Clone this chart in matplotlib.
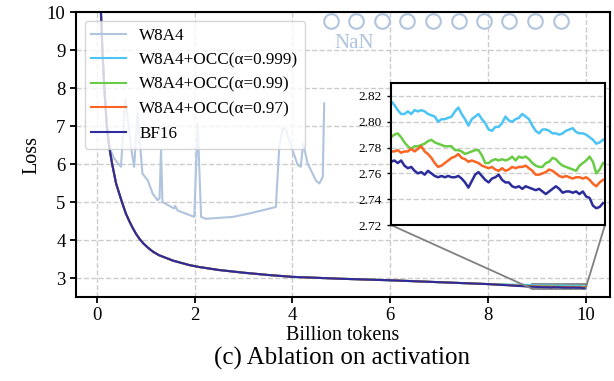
import matplotlib
matplotlib.use("Agg")
import matplotlib.pyplot as plt
import numpy as np
from mpl_toolkits.axes_grid1.inset_locator import mark_inset

plt.rcParams['font.family'] = ['Liberation Serif', 'DejaVu Serif']

# warm-up part, all the stable runs sit on top of each other here
early_tokens = [0.03, 0.08, 0.11, 0.15, 0.2, 0.25, 0.31, 0.39, 0.51, 0.59, 0.66, 0.73, 0.80,
                0.87, 0.95, 1.04, 1.15, 1.27, 1.55, 1.89, 2.09, 2.5, 3.0, 3.5, 4.0, 5.0,
                6.0, 7.0, 8.0]
early_loss = [11.0, 10.0, 9.0, 8.0, 7.0, 6.45, 6.0, 5.49, 5.0, 4.70, 4.50, 4.32, 4.16,
              4.03, 3.91, 3.80, 3.69, 3.60, 3.46, 3.34, 3.29, 3.21, 3.14, 3.08, 3.03, 2.98,
              2.94, 2.89, 2.84]

# W8A4 diverges and ends in NaN
w8a4_tokens = [0.03, 0.08, 0.11, 0.15, 0.2, 0.25, 0.35, 0.49, 0.58, 0.70, 0.76, 0.83, 0.93,
               1.04, 1.14, 1.24, 1.28, 1.31, 1.34, 1.58, 1.60, 1.65, 1.99, 2.06, 2.13, 2.23,
               2.78, 3.12, 3.66, 3.73, 3.80, 3.87, 4.0, 4.11, 4.17, 4.22, 4.31, 4.48,
               4.55, 4.62, 4.65]
w8a4_loss = [11.0, 10.0, 9.0, 8.0, 7.0, 6.45, 6.15, 5.93, 7.73, 6.41, 5.93, 7.34, 5.75,
             5.57, 5.22, 5.05, 5.1, 6.37, 5.0, 4.83, 4.9, 4.78, 4.61, 7.07, 4.61, 4.56,
             4.61, 4.70, 4.87, 6.45, 6.94, 6.9, 6.37, 5.97, 5.93, 6.54, 6.02, 5.57,
             5.49, 5.66, 7.6]
nan_tokens = [4.78, 5.31, 5.83, 6.35, 6.87, 7.40, 7.92, 8.44, 8.97, 9.49]
nan_level = 9.78

# last ~1.1B tokens
occ999_tail = [2.816, 2.813, 2.809, 2.806, 2.806, 2.808, 2.806, 2.809, 2.808, 2.809,
               2.808, 2.806, 2.805, 2.804, 2.800, 2.802, 2.802, 2.803, 2.804, 2.808,
               2.811, 2.806, 2.802, 2.797, 2.802, 2.804, 2.806, 2.802, 2.799, 2.794,
               2.793, 2.796, 2.796, 2.799, 2.804, 2.801, 2.800, 2.802, 2.803, 2.806,
               2.804, 2.802, 2.797, 2.793, 2.791, 2.794, 2.794, 2.793, 2.791, 2.791,
               2.790, 2.791, 2.793, 2.794, 2.795, 2.792, 2.791, 2.791, 2.790, 2.788,
               2.786, 2.783, 2.784, 2.786]
occ99_tail = [2.788, 2.790, 2.791, 2.788, 2.784, 2.781, 2.779, 2.781, 2.781, 2.782,
              2.783, 2.785, 2.786, 2.784, 2.783, 2.782, 2.781, 2.781, 2.781, 2.778,
              2.778, 2.777, 2.775, 2.776, 2.777, 2.778, 2.778, 2.774, 2.768, 2.768,
              2.770, 2.771, 2.770, 2.771, 2.770, 2.771, 2.773, 2.770, 2.773, 2.772,
              2.773, 2.771, 2.768, 2.766, 2.765, 2.765, 2.768, 2.769, 2.772, 2.771,
              2.768, 2.766, 2.765, 2.764, 2.763, 2.762, 2.766, 2.768, 2.770, 2.773,
              2.769, 2.760, 2.763, 2.768]
occ97_tail = [2.777, 2.777, 2.778, 2.776, 2.777, 2.777, 2.779, 2.777, 2.779, 2.781,
              2.777, 2.775, 2.772, 2.768, 2.765, 2.766, 2.768, 2.770, 2.772, 2.773,
              2.775, 2.772, 2.771, 2.769, 2.770, 2.769, 2.768, 2.766, 2.765, 2.764,
              2.765, 2.763, 2.762, 2.764, 2.762, 2.763, 2.765, 2.764, 2.765, 2.765,
              2.766, 2.764, 2.762, 2.759, 2.759, 2.760, 2.761, 2.763, 2.762, 2.760,
              2.758, 2.757, 2.758, 2.757, 2.756, 2.757, 2.757, 2.756, 2.757, 2.755,
              2.752, 2.750, 2.753, 2.755]
bf16_tail = [2.769, 2.770, 2.768, 2.770, 2.766, 2.764, 2.765, 2.762, 2.760, 2.761,
             2.759, 2.762, 2.760, 2.758, 2.757, 2.758, 2.757, 2.758, 2.757, 2.757,
             2.758, 2.756, 2.753, 2.749, 2.754, 2.759, 2.761, 2.758, 2.755, 2.753,
             2.756, 2.757, 2.759, 2.755, 2.753, 2.753, 2.750, 2.749, 2.750, 2.748,
             2.750, 2.749, 2.748, 2.747, 2.748, 2.746, 2.744, 2.746, 2.748, 2.750,
             2.748, 2.745, 2.746, 2.746, 2.745, 2.746, 2.744, 2.746, 2.742, 2.741,
             2.735, 2.733, 2.734, 2.737]

tail_tokens = list(np.linspace(8.9, 9.99, len(bf16_tail)))

runs = [('W8A4+OCC(α=0.999)', occ999_tail, '#4cc4f5'),
        ('W8A4+OCC(α=0.99)', occ99_tail, '#6acc45'),
        ('W8A4+OCC(α=0.97)', occ97_tail, '#fa6524'),
        ('BF16', bf16_tail, '#2c2c9c')]
w8a4_color = '#b0c4de'

fig = plt.figure(figsize=(6.14, 3.81), dpi=100)
ax = fig.add_axes([0.1238, 0.2205, 0.8697, 0.7472])

ax.plot(w8a4_tokens, w8a4_loss, color=w8a4_color, lw=1.5, label='W8A4')
for name, tail, col in runs:
    ax.plot(early_tokens + tail_tokens, early_loss + tail, color=col, lw=1.5, label=name)
ax.plot(nan_tokens, [nan_level] * len(nan_tokens), 'o', mfc='none', mec=w8a4_color,
        ms=10.5, mew=1.5)
ax.text(5.27, 9.19, 'NaN', color=w8a4_color, fontsize=15, ha='center', va='center')

ax.set_xlim(-0.43, 10.5)
ax.set_ylim(2.5, 10)
ax.set_xticks([0, 2, 4, 6, 8, 10])
ax.set_yticks([3, 4, 5, 6, 7, 8, 9, 10])
ax.tick_params(labelsize=13.5, width=1.3, length=4)
ax.grid(color='#cccccc', ls='--', lw=1)
for s in ax.spines.values():
    s.set_linewidth(1.5)
ax.set_xlabel('Billion tokens', fontsize=14.5, labelpad=1.5)
ax.set_ylabel('Loss', fontsize=14.5)
ax.legend(loc='upper left', fontsize=12.3)
fig.text(0.557, 0.058, '(c) Ablation on activation', fontsize=18, ha='center', va='center')

# zoomed panel
axins = fig.add_axes([0.6368, 0.4094, 0.3485, 0.3727])
for name, tail, col in runs:
    axins.plot(tail_tokens, tail, color=col, lw=1.8)
axins.set_xlim(8.9, 10.0)
axins.set_ylim(2.72, 2.83)
axins.set_xticks([])
axins.set_yticks([2.72, 2.74, 2.76, 2.78, 2.80, 2.82])
axins.tick_params(labelsize=9.5, width=1, length=3)
axins.grid(axis='y', color='#cccccc', ls='--', lw=1)
for s in axins.spines.values():
    s.set_linewidth(1.5)
mark_inset(ax, axins, loc1=3, loc2=4, fc='none', ec='0.5', lw=1.3)

fig.savefig('out.png', dpi=100)
